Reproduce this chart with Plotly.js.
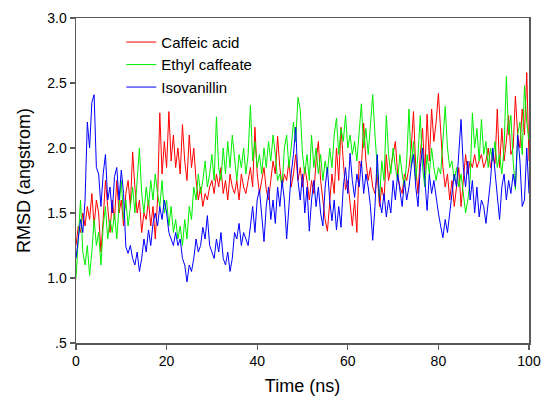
<!DOCTYPE html>
<html>
<head>
<meta charset="utf-8">
<script src="https://cdn.plot.ly/plotly-3.0.1.min.js"></script>
<style>html,body{margin:0;padding:0;background:#fff;}#chart{width:550px;height:415px;}</style>
</head>
<body>
<div id="chart"></div>
<script>
// Sampling step of the read-off values (ns)
const timeStep = 0.5;

const seriesNames = ["Caffeic acid", "Ethyl caffeate", "Isovanillin"];

// RMSD values (angstrom), read every 0.5 ns from 0 to 100 ns
const caffeicAcid = [
1.25,1.4,1.35,1.5,1.4,1.55,1.45,1.65,1.4,1.6,
1.5,1.2,1.45,1.75,1.55,1.35,1.6,1.45,1.75,1.5,
1.6,1.4,1.65,1.75,1.55,1.97,1.7,1.5,1.6,1.35,
1.5,1.45,1.6,1.4,1.55,1.3,1.6,2.27,1.8,2.05,
1.85,2.28,1.9,2.1,1.85,2.0,1.8,2.18,1.9,1.75,
2.1,1.85,2.0,1.75,1.6,1.7,1.55,1.65,1.6,1.7,
1.75,1.65,1.8,1.7,1.85,1.65,1.75,1.6,1.8,1.7,
1.65,1.75,1.6,1.8,1.7,1.65,1.75,1.85,1.7,2.16,
1.8,1.65,1.75,1.85,1.68,1.6,1.75,1.9,1.8,2.09,
1.85,1.7,1.8,1.75,1.9,1.7,1.8,1.95,1.75,1.85,
1.7,1.85,1.75,1.6,1.75,1.65,1.9,2.05,1.75,1.6,
1.45,1.36,1.55,1.8,1.65,2.0,1.75,2.16,1.9,1.68,
1.75,1.55,1.4,1.6,1.35,1.9,1.85,2.19,1.9,1.75,
1.85,1.7,1.65,1.8,1.55,1.7,1.6,1.95,1.75,1.85,
1.95,2.05,1.8,1.7,1.65,1.8,1.75,1.85,2.0,2.28,
1.85,1.65,1.95,2.15,1.8,2.26,1.9,2.3,2.05,2.2,
2.42,2.1,1.85,1.7,1.8,1.6,1.75,1.55,1.7,1.85,
1.55,1.75,1.95,1.8,1.9,1.85,1.95,1.85,1.9,1.95,
1.85,1.9,2.0,1.85,1.95,1.88,2.3,1.85,2.15,1.9,
2.05,2.25,1.95,2.0,2.4,2.1,2.0,2.3,2.1,2.58,
1.9
];

const ethylCaffeate = [
1.0,1.3,1.6,1.2,1.1,1.25,1.02,1.2,1.45,1.25,
1.35,1.1,1.4,1.55,1.3,1.45,1.35,1.5,1.3,1.55,
1.75,1.45,1.6,1.4,1.55,1.7,1.5,1.75,2.0,1.65,
1.5,1.7,1.55,1.75,1.6,1.8,1.65,1.55,1.75,1.5,
1.6,1.4,1.55,1.35,1.45,1.3,1.4,1.25,1.45,1.3,
1.55,1.45,1.7,1.6,1.8,1.65,1.75,1.9,1.7,1.8,
1.95,1.75,2.24,1.85,1.75,2.0,1.8,2.05,1.85,2.1,
1.9,1.75,1.95,1.85,2.0,1.8,1.95,2.33,1.9,2.05,
1.85,1.95,1.8,2.0,1.85,2.05,1.9,2.1,1.95,1.75,
1.8,1.7,2.0,2.1,1.85,2.0,2.2,2.05,2.39,2.3,
1.95,1.8,1.95,1.75,2.1,1.85,2.0,1.8,1.95,1.75,
1.9,1.8,2.0,1.85,2.1,2.23,1.95,2.15,2.05,2.25,
2.0,2.1,1.95,2.05,1.9,2.1,2.34,2.0,2.15,1.95,
2.2,2.41,2.1,1.85,1.6,1.9,1.75,2.25,1.95,1.8,
2.0,1.85,1.75,1.95,1.8,1.7,1.9,2.3,1.85,2.05,
1.75,1.95,2.25,1.85,1.7,1.95,1.8,2.0,1.85,1.75,
1.85,1.8,2.1,2.32,2.0,1.85,1.9,1.75,1.85,1.7,
1.8,1.65,1.5,1.6,1.75,2.27,2.0,2.15,1.9,2.22,
1.95,2.05,1.85,2.0,1.9,2.05,1.85,1.95,1.8,2.0,
2.55,2.1,2.25,1.9,1.68,2.1,2.2,1.95,2.48,2.2,
2.06
];

const isovanillin = [
1.15,1.3,1.45,1.35,1.6,2.2,2.0,2.35,2.41,1.85,
1.8,1.55,1.8,1.95,1.6,1.7,1.5,1.78,1.85,1.6,
1.83,1.65,1.24,1.19,1.25,1.15,1.1,1.2,1.05,1.15,
1.3,1.2,1.37,1.25,1.42,1.5,1.4,1.55,1.45,1.6,
1.5,1.35,1.3,1.25,1.35,1.25,1.3,1.15,1.1,0.97,
1.1,1.05,1.15,1.3,1.2,1.25,1.39,1.3,1.48,1.25,
1.2,1.15,1.3,1.2,1.35,1.15,1.1,1.2,1.05,1.15,
1.35,1.3,1.42,1.25,1.35,1.3,1.25,1.4,1.55,1.35,
1.6,1.68,1.45,1.28,1.55,1.7,1.45,1.6,1.42,1.7,
1.55,1.75,1.6,1.3,1.55,1.8,1.95,2.16,1.75,1.6,
1.8,1.5,1.7,1.36,1.6,1.75,1.55,1.7,1.5,1.4,
1.7,1.85,1.6,1.44,1.6,1.37,1.55,1.39,1.7,1.85,
1.65,1.96,1.75,1.62,1.8,1.7,1.9,1.65,1.8,1.7,
1.55,1.29,1.55,1.95,1.6,1.5,1.65,1.47,1.6,1.5,
1.75,1.6,1.8,1.65,1.55,1.75,1.6,1.7,1.85,1.95,
1.7,1.55,1.85,2.0,1.75,1.52,1.8,1.65,1.75,1.6,
1.5,1.4,1.31,1.45,1.35,1.5,1.65,1.8,1.7,1.95,
2.22,1.85,1.7,1.9,1.6,1.75,1.5,1.7,1.47,1.6,
1.55,1.42,1.6,1.75,2.0,1.8,1.66,1.45,1.7,1.8,
1.6,1.75,1.65,1.8,1.7,2.1,1.9,1.55,1.6,2.0,
1.65
];

const seriesColors = ["#ff0000", "#00f000", "#0000ff"];

const xTickVals = [0, 20, 40, 60, 80, 100];
const yTickVals = [0.5, 1.0, 1.5, 2.0, 2.5, 3.0];
const yTickText = [".5", "1.0", "1.5", "2.0", "2.5", "3.0"];

const allSeries = [caffeicAcid, ethylCaffeate, isovanillin];
const traces = allSeries.map(function (vals, k) {
  return {
    type: "scatter",
    mode: "lines",
    name: seriesNames[k],
    x: vals.map(function (_, i) { return i * timeStep; }),
    y: vals,
    line: { color: seriesColors[k], width: 1 }
  };
});

const axisCommon = {
  showgrid: false,
  zeroline: false,
  showline: true,
  mirror: true,
  linecolor: "#5a5a5a",
  linewidth: 1.5,
  ticks: "outside",
  ticklen: 5,
  tickwidth: 1.2,
  tickcolor: "#5a5a5a",
  tickfont: { family: "Liberation Sans, Arial, sans-serif", size: 14, color: "#000" }
};

const layout = {
  width: 550,
  height: 415,
  margin: { l: 76, r: 21, t: 18, b: 72 },
  paper_bgcolor: "#fff",
  plot_bgcolor: "#fff",
  showlegend: true,
  legend: {
    x: 0.10, y: 0.976, xanchor: "left", yanchor: "top",
    bgcolor: "rgba(0,0,0,0)",
    font: { family: "Liberation Sans, Arial, sans-serif", size: 15, color: "#000" },
    tracegroupgap: 0
  },
  xaxis: Object.assign({}, axisCommon, {
    range: [0, 100],
    tickvals: xTickVals,
    title: { text: "Time (ns)", standoff: 11, font: { family: "Liberation Sans, Arial, sans-serif", size: 18, color: "#000" } }
  }),
  yaxis: Object.assign({}, axisCommon, {
    range: [0.5, 3.0],
    tickvals: yTickVals,
    ticktext: yTickText,
    title: { text: "RMSD (angstrom)", standoff: 12, font: { family: "Liberation Sans, Arial, sans-serif", size: 18, color: "#000" } }
  })
};

Plotly.newPlot("chart", traces, layout, { displayModeBar: false, staticPlot: true });
</script>
</body>
</html>
